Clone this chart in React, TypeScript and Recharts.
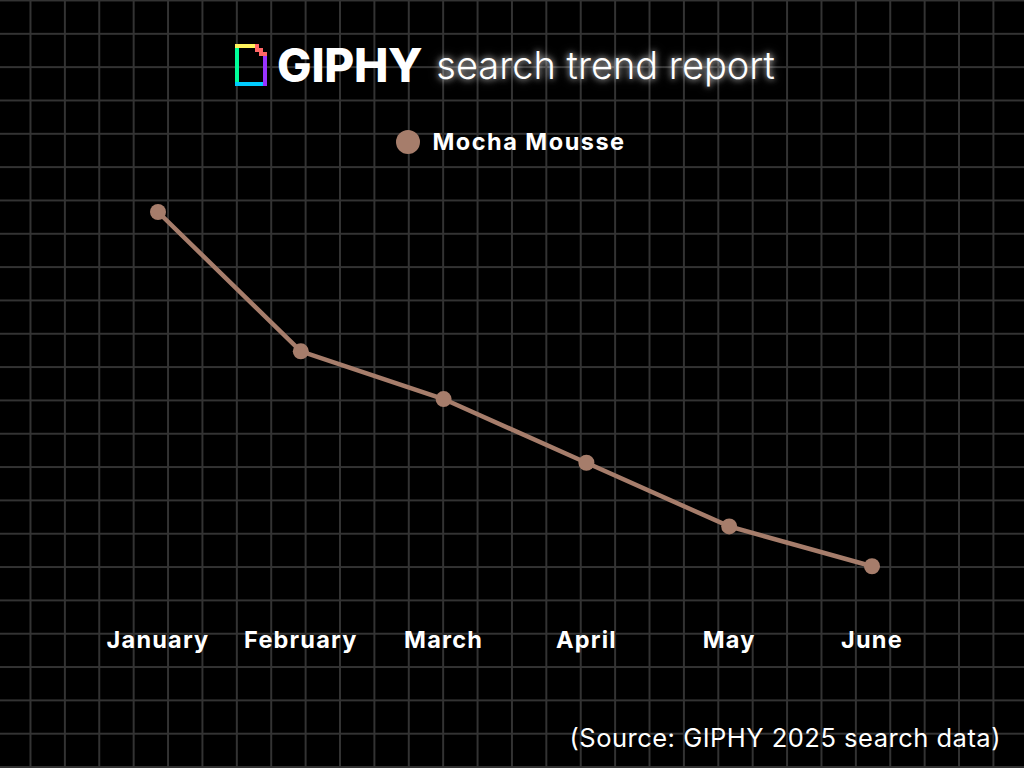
import React from 'react';
import { LineChart, Line, XAxis, YAxis, Legend } from 'recharts';

// search interest (no axis shown, Jan = 100)
const months = ['January', 'February', 'March', 'April', 'May', 'June'];
const mochaMousse = [100, 65, 53, 37, 21, 11];
const seriesName = 'Mocha Mousse';

const chartData = months.map((month, i) => ({ month, value: mochaMousse[i] }));

const MOCHA = '#a67d6b';
const FONT = 'Inter, "Open Sans", sans-serif';

const GiphyLogo = () => (
  <svg width="32" height="42" viewBox="0 0 32 42" style={{ display: 'block' }}>
    <rect x="0" y="0" width="4" height="42" fill="#00ff99" />
    <rect x="0" y="0" width="20" height="4" fill="#fff35c" />
    <rect x="0" y="38" width="32" height="4" fill="#00ccff" />
    <rect x="28" y="12" width="4" height="30" fill="#9933ff" />
    <rect x="20" y="0" width="4" height="8" fill="#ff6666" />
    <rect x="20" y="4" width="8" height="4" fill="#ff6666" />
    <rect x="24" y="8" width="8" height="4" fill="#ff6666" />
    <rect x="24" y="4" width="4" height="8" fill="#ff6666" />
  </svg>
);

const MonthTick = (props: any) => {
  const { x, y, payload } = props;
  return (
    <text
      x={x}
      y={y + 30}
      textAnchor="middle"
      fill="#ffffff"
      fontFamily={FONT}
      fontWeight={700}
      fontSize={23.5}
      letterSpacing={1.2}
    >
      {payload.value}
    </text>
  );
};

const LegendContent = () => (
  <div
    style={{
      display: 'flex',
      alignItems: 'center',
      justifyContent: 'center',
      gap: 12,
      color: '#fff',
      fontFamily: FONT,
      fontWeight: 700,
      fontSize: 23.5,
      letterSpacing: 1.5,
      marginLeft: -2,
    }}
  >
    <span
      style={{ width: 24, height: 24, borderRadius: 12, background: MOCHA, display: 'inline-block' }}
    />
    <span>{seriesName}</span>
  </div>
);

export default function App() {
  return (
    <div
      style={{
        position: 'fixed',
        left: 0,
        top: 0,
        width: 1024,
        height: 768,
        backgroundColor: '#000',
        backgroundImage:
          'linear-gradient(to right, #333 1.5px, transparent 1.5px), linear-gradient(to bottom, #333 1.5px, transparent 1.5px)',
        backgroundSize: '34.4px 33.33px',
        backgroundPosition: '29.5px -0.5px',
        overflow: 'hidden',
      }}
    >
      {/* title */}
      <div
        style={{
          position: 'absolute',
          top: 37,
          left: -7,
          width: 1024,
          display: 'flex',
          justifyContent: 'center',
          alignItems: 'center',
          color: '#fff',
          fontFamily: FONT,
        }}
      >
        <GiphyLogo />
        <span style={{ fontWeight: 800, fontSize: 46, marginLeft: 10, letterSpacing: -0.3 }}>GIPHY</span>
        <span
          style={{
            fontWeight: 300,
            fontSize: 38,
            marginLeft: 14,
            textShadow: '0 0 6px rgba(255,255,255,0.8), 0 0 12px rgba(255,255,255,0.4)',
          }}
        >
          search trend report
        </span>
      </div>

      <LineChart
        width={1024}
        height={768}
        data={chartData}
        margin={{ top: 212, right: 152, left: 158, bottom: 128 }}
      >
        <XAxis dataKey="month" axisLine={false} tickLine={false} tick={<MonthTick />} interval={0} />
        <YAxis hide domain={[0, 100]} />
        <Legend
          verticalAlign="middle"
          content={<LegendContent />}
          wrapperStyle={{ top: 127, left: 0, width: 1024 }}
        />
        <Line
          dataKey="value"
          name={seriesName}
          type="linear"
          stroke={MOCHA}
          strokeWidth={4.5}
          dot={{ r: 8, fill: MOCHA, stroke: 'none' }}
          activeDot={false}
          isAnimationActive={false}
        />
      </LineChart>

      <div
        style={{
          position: 'absolute',
          right: 23,
          top: 722,
          color: '#fff',
          fontFamily: FONT,
          fontSize: 25.5,
          letterSpacing: 0.5,
        }}
      >
        (Source: GIPHY 2025 search data)
      </div>
    </div>
  );
}
